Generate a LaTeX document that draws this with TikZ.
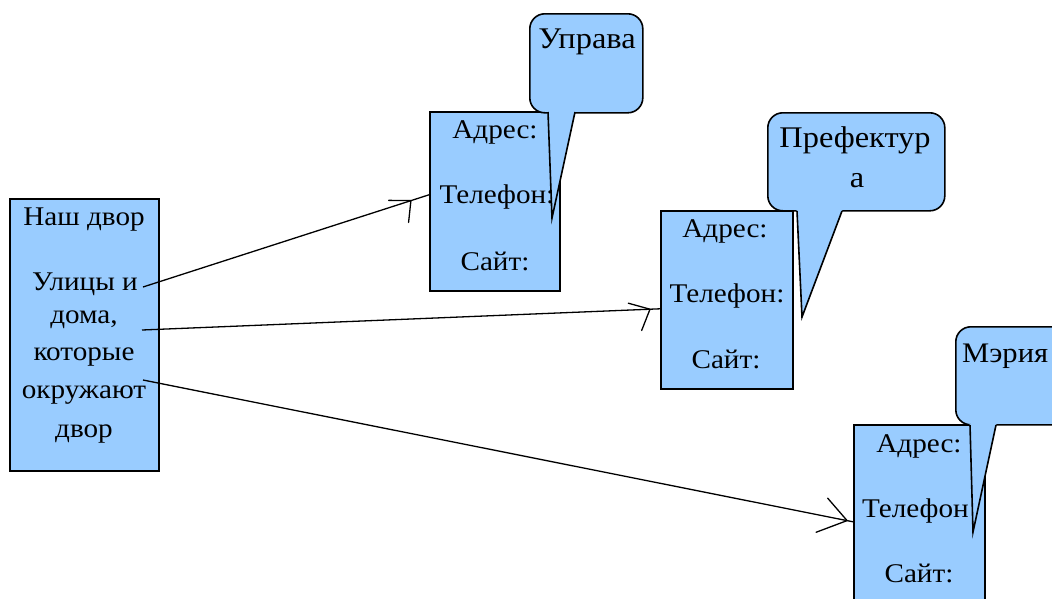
\documentclass[tikz,border=0pt]{standalone}
\usepackage{fontspec}
\setmainfont{Liberation Serif}[FakeStretch=1.08]
\usetikzlibrary{decorations.markings}
\definecolor{boxblue}{RGB}{153,204,255}
\tikzset{
  box/.style={draw=black, line width=1.6pt, fill=boxblue, inner sep=0pt, anchor=north west},
  bubble/.style={draw=black, line width=1.6pt, fill=boxblue, rounded corners=15pt, inner sep=0pt, anchor=north west},
  txt/.style={inner sep=0pt, anchor=base, font=\fontsize{27}{30}\selectfont},
  ctxt/.style={txt, font=\fontsize{30}{33}\selectfont},
  ctxtw/.style={txt, anchor=base west, font=\fontsize{28.3}{31}\selectfont},
  ptr/.style={draw=black, line width=1.6pt, line join=miter},
  link/.style={line width=1.3pt, postaction={decorate}},
  barb/.style n args={5}{decoration={markings, mark=at position -#1 with {\draw[line width=1.3pt, line cap=round, line join=round] (#2pt,#3pt) -- (0pt,0pt) -- (#4pt,#5pt);}}},
}
\begin{document}
\begin{tikzpicture}[x=1pt,y=-1pt]
\useasboundingbox (0,0) rectangle (1052,598);
\clip (0,0) rectangle (1052,598);

% left box
\node[box, minimum width=149pt, minimum height=272pt] (nd) at (9,198) {};
\node[txt] (nd1) at (84,225) {Наш двор};
\node[txt] (nd2) at (85,290) {Улицы и};
\node[txt] (nd3) at (84,323) {дома,};
\node[txt] (nd4) at (84,360) {которые};
\node[txt] (nd5) at (84,398) {окружают};
\node[txt] (nd6) at (84,437) {двор};
\coordinate (s1) at (143,287);
\coordinate (s2) at (142,330);
\coordinate (s3) at (143,380);

% box 1
\node[box, minimum width=130pt, minimum height=179pt] (b1) at (429,111) {};
\node[txt] (b1a) at (495,138) {Адрес:};
\node[txt] (b1b) at (497,203) {Телефон:};
\node[txt] (b1c) at (495,270) {Сайт:};

% box 2
\node[box, minimum width=132pt, minimum height=178pt] (b2) at (660,210) {};
\node[txt] (b2a) at (725,237) {Адрес:};
\node[txt] (b2b) at (727,302) {Телефон:};
\node[txt] (b2c) at (726,368) {Сайт:};

% box 3
\node[box, minimum width=131pt, minimum height=216pt] (b3) at (853,424) {};
\node[txt] (b3a) at (919,452) {Адрес:};
\node[txt] (b3b) at (915.5,517) {Телефон};
\node[txt] (b3c) at (919,582) {Сайт:};

% callout 1
\node[bubble, minimum width=113pt, minimum height=99pt] (c1) at (529,13) {};
\fill[boxblue] (547.5,110.5) -- (552,218) -- (575.5,110.5) -- cycle;
\draw[ptr] (548,112) -- (552,218) -- (575,112);
\node[ctxt] (c1t) at (587,48) {Управа};

% callout 2
\node[bubble, minimum width=177pt, minimum height=98pt] (c2) at (767,112) {};
\fill[boxblue] (796.5,209.5) -- (802,317) -- (842.5,209.5) -- cycle;
\draw[ptr] (797,211) -- (802,317) -- (842,211);
\node[ctxt] (c2t) at (855,147) {Префектур};
\node[ctxt] (c2u) at (857,187) {а};

% callout 3
\node[bubble, minimum width=140pt, minimum height=98pt] (c3) at (955,326) {};
\fill[boxblue] (969.5,423.5) -- (973,532) -- (996.5,423.5) -- cycle;
\draw[ptr] (970,425) -- (973,532) -- (996,425);
\node[ctxtw] (c3t) at (962,362) {Мэрия};

% connectors
\draw[link, barb={19pt}{-21.1}{7.1}{-8.9}{-20.0}] (s1) -- ([yshift=6.5pt]b1.west);
\draw[link, barb={10pt}{-21.4}{6.9}{-9.2}{-20.9}] (s2) -- ([yshift=-9pt]b2.west);
\draw[link, barb={6pt}{-23.4}{18.2}{-28.1}{-17.5}] (s3) -- ([yshift=11pt]b3.west);
\end{tikzpicture}
\end{document}
